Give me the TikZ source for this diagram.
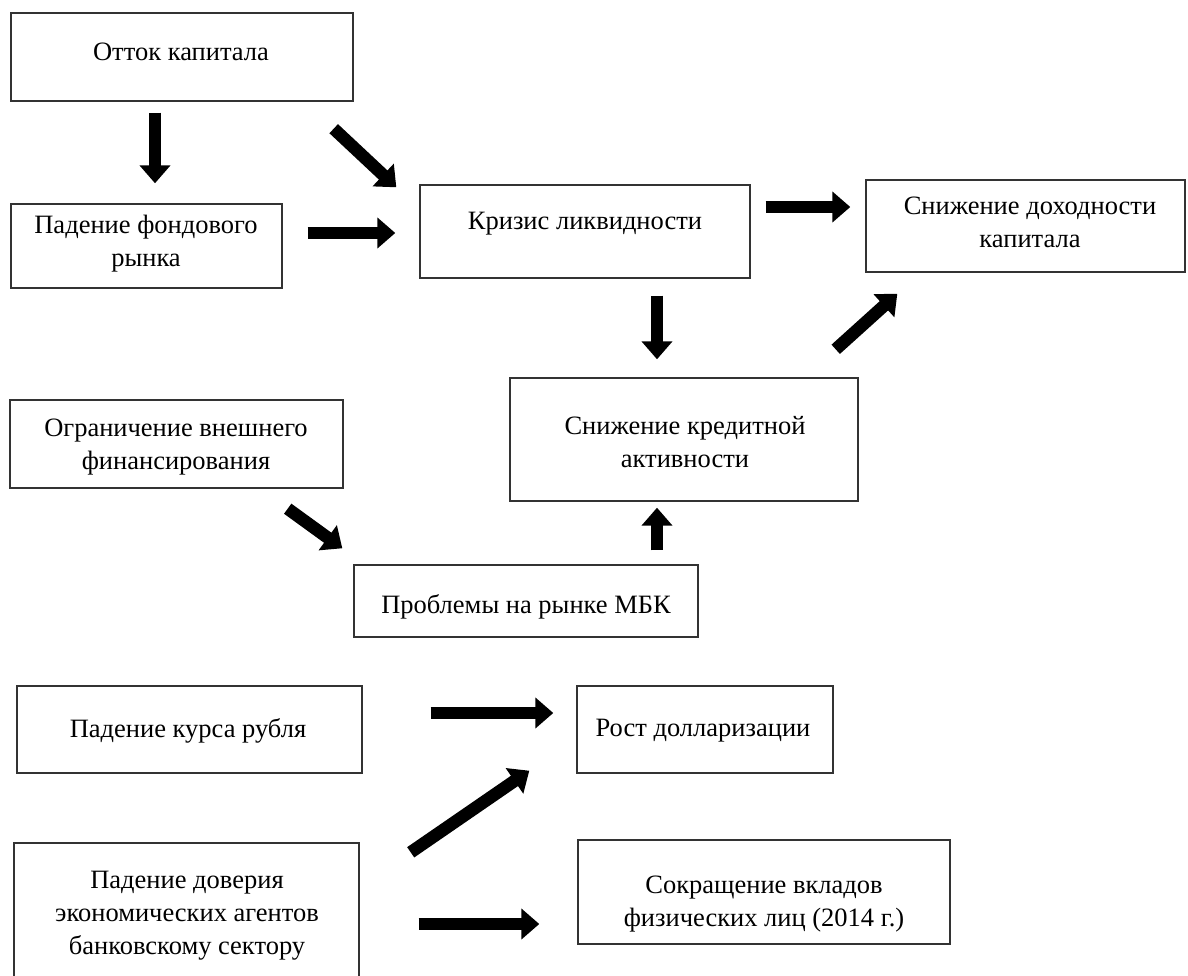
\documentclass[tikz,border=0pt]{standalone}
\usepackage{fontspec}
\setmainfont{Liberation Serif}
\usetikzlibrary{arrows.meta,calc}
\begin{document}
\begin{tikzpicture}[x=1pt,y=-1pt,
  box/.style 2 args={draw=black!80, line width=1.4pt, minimum width=#1, minimum height=#2, inner sep=0pt},
  txt/.style={align=center, font=\fontsize{26.5}{33}\selectfont, inner sep=0pt},
  barrow/.style={line width=12.5pt, -{Triangle[width=30pt,length=18pt]}}]
\useasboundingbox (0,0) rectangle (1188,976);
\clip (0,0) rectangle (1188,976);
% boxes
\node[box={342pt}{88pt}]  (otok) at (182,57) {};
\node[box={271pt}{84pt}]  (pad)  at (146.5,246) {};
\node[box={330pt}{93pt}]  (kriz) at (585,231.5) {};
\node[box={319pt}{92pt}]  (doh)  at (1025.5,226) {};
\node[box={348pt}{123pt}] (kred) at (684,439.5) {};
\node[box={333pt}{88pt}]  (ogr)  at (176.5,444) {};
\node[box={344pt}{72pt}]  (prob) at (526,601) {};
\node[box={345pt}{87pt}]  (kurs) at (189.5,729.5) {};
\node[box={256pt}{87pt}]  (rost) at (705,729.5) {};
\node[box={345pt}{147pt}] (dov)  at (186.5,916.5) {};
\node[box={372pt}{104pt}] (sokr) at (764,892) {};
% texts
\node[txt] (t-otok) at (181,52) {Отток капитала};
\node[txt] (t-pad)  at (146,244) {Падение фондового\\рынка};
\node[txt] (t-kriz) at (585,224) {Кризис ликвидности};
\node[txt] (t-doh)  at (1030,222) {Снижение доходности\\капитала};
\node[txt] (t-kred) at (685,442) {Снижение кредитной\\активности};
\node[txt] (t-ogr)  at (176,447) {Ограничение внешнего\\финансирования};
\node[txt] (t-prob) at (526,607) {Проблемы на рынке МБК};
\node[txt] (t-kurs) at (188,731) {Падение курса рубля};
\node[txt] (t-rost) at (703,731) {Рост долларизации};
\node[txt] (t-dov)  at (187,916) {Падение доверия\\экономических агентов\\банковскому сектору};
\node[txt] (t-sokr) at (764,904) {Сокращение вкладов\\физических лиц (2014 г.)};
% arrows
\draw[barrow] ($(otok.south)+(-27,11)$) -- ($(pad.north)+(8.5,-20)$);
\draw[barrow] ($(otok.south east)+(-20,27)$) -- ($(kriz.north west)+(-23,3)$);
\draw[barrow] ($(pad.east)+(25,-13)$) -- ($(kriz.west)+(-24,1.5)$);
\draw[barrow] ($(kriz.east)+(15,-24.5)$) -- ($(doh.west)+(-15,-19)$);
\draw[barrow] ($(kriz.south)+(72,17)$) -- ($(kred.north)+(-27,-18)$);
\draw[barrow] ($(kred.north east)+(-23,-28)$) -- ($(doh.south west)+(32,21)$);
\draw[barrow] ($(ogr.south east)+(-56,20)$) -- ($(prob.north west)+(-11,-16)$);
\draw[barrow] ($(prob.north)+(131,-14)$) -- ($(kred.south)+(-27,6)$);
\draw[barrow] ($(kurs.east)+(68,-16.5)$) -- ($(rost.west)+(-23,-16.5)$);
\draw[barrow] ($(dov.north east)+(51,10)$) -- ($(rost.south west)+(-47,-3)$);
\draw[barrow] ($(dov.east)+(59,7.5)$) -- ($(sokr.west)+(-38,32)$);
\end{tikzpicture}
\end{document}
